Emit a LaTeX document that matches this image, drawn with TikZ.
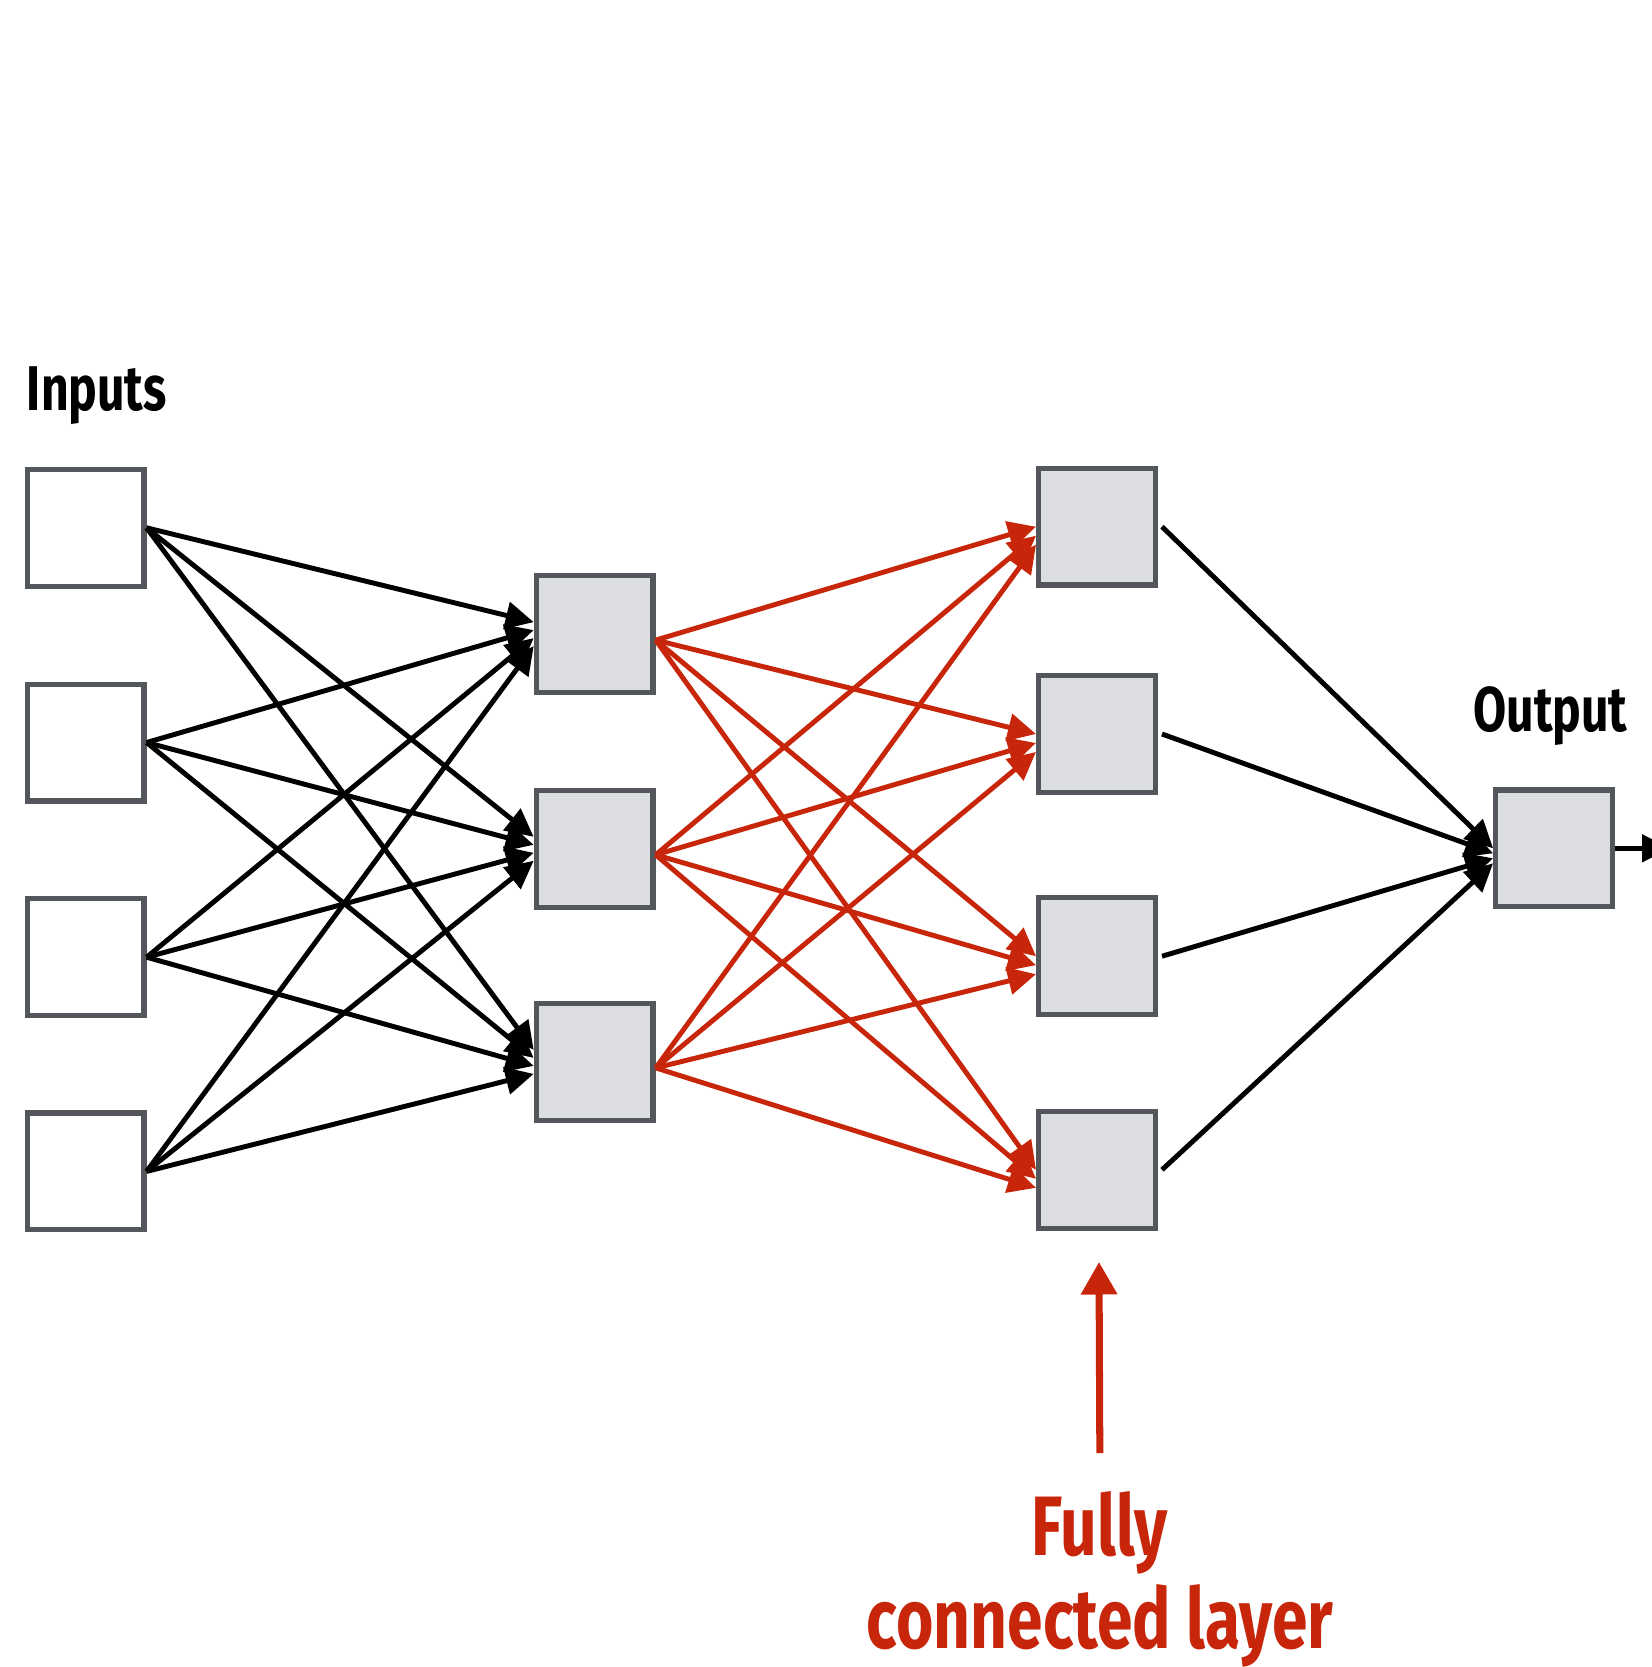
\documentclass[tikz,border=0pt]{standalone}
\usepackage{fontspec}
\newfontfamily\lblfont[FakeStretch=0.76]{Fira Sans}
\usetikzlibrary{arrows.meta}

\definecolor{boxgray}{RGB}{83,87,92}
\definecolor{boxfill}{RGB}{220,221,224}
\definecolor{fcred}{RGB}{200,38,10}

\tikzset{
  unit/.style={draw=boxgray, line width=3pt, minimum size=2.335cm, inner sep=0pt},
  inunit/.style={unit, fill=white},
  hidunit/.style={unit, fill=boxfill},
  link/.style={line width=2.8pt, -{Triangle[length=5.6mm,width=5.4mm]}},
  lbl/.style={font=\lblfont\bfseries\fontsize{36}{40}\selectfont, inner sep=0pt},
  biglbl/.style={font=\lblfont\bfseries\fontsize{48}{53}\selectfont, inner sep=0pt, text=fcred},
}

\begin{document}
\begin{tikzpicture}[x=0.02cm, y=-0.02cm]
    \useasboundingbox (0,0) rectangle (1652,1667);

    % Entradas
    \node[lbl, anchor=base west] (inputs) at (26.6,410) {Inputs};
    \node[inunit] (in1) at (85.6,527.8) {};
    \node[inunit] (in2) at (85.6,742.5) {};
    \node[inunit] (in3) at (85.6,957.2) {};
    \node[inunit] (in4) at (85.6,1171.4) {};

    % Primera capa oculta
    \node[hidunit] (h1) at (594.7,634.1) {};
    \node[hidunit] (h2) at (594.7,848.8) {};
    \node[hidunit] (h3) at (594.7,1061.9) {};

    % Capa totalmente conectada
    \node[hidunit] (fc1) at (1097,526.7) {};
    \node[hidunit] (fc2) at (1097,734) {};
    \node[hidunit] (fc3) at (1097,956.2) {};
    \node[hidunit] (fc4) at (1097,1169.8) {};

    % Salida
    \node[lbl, anchor=base west] (output) at (1473,731) {Output};
    \node[hidunit] (out) at (1554.1,848.3) {};
    \coordinate (outend) at (1670,848.3);

    % Conexiones entrada -> capa oculta
    \foreach \i in {1,...,4}
        \foreach \j in {1,2,3}
            \draw[link] (in\i.east) -- ([yshift={(2.5-\i)*0.16cm}]h\j.west);

    % Conexiones capa oculta -> capa totalmente conectada
    \foreach \i in {1,2,3}
        \foreach \j in {1,...,4}
            \draw[link, fcred] ([yshift=-0.12cm]h\i.east) -- ([yshift={(1-\i)*0.18cm}]fc\j.west);

    % Conexiones hacia la salida
    \foreach \i in {1,...,4}
        \draw[link] ([xshift=0.08cm]fc\i.east) -- ([yshift={-(\i-1)*0.1cm}]out.west);
    \draw[link] (out.east) -- (outend);

    % Etiqueta de la capa
    \node[biglbl, anchor=base] (fully) at (1100,1555) {Fully};
    \node[biglbl, anchor=base] (fclayer) at (1100,1648) {connected layer};
    \coordinate (fctip) at (1099,1262);
    \draw[fcred, line width=4pt, shorten <=0.75cm, -{Triangle[length=6.5mm,width=7mm]}] (fully.north) -- (fctip);
\end{tikzpicture}
\end{document}
